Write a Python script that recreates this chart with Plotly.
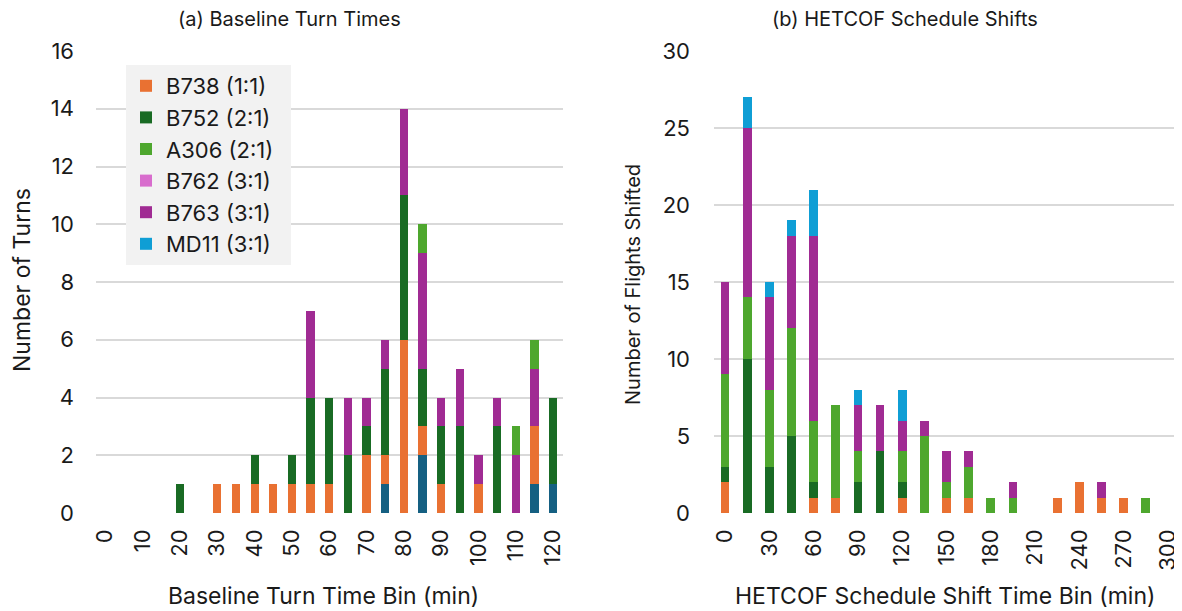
import plotly.graph_objects as go

# ---------------- data ----------------
left_bins = list(range(0, 125, 5))
#            0 5 10 15 20 25 30 35 40 45 50 55 60 65 70 75 80 85 90 95 100 105 110 115 120
left_md11 = [0, 0, 0, 0, 0, 0, 0, 0, 0, 0, 0, 0, 0, 0, 0, 1, 0, 2, 0, 0, 0, 0, 0, 1, 1]
left_b738 = [0, 0, 0, 0, 0, 0, 1, 1, 1, 1, 1, 1, 1, 0, 2, 1, 6, 1, 1, 0, 1, 0, 0, 2, 0]
left_b752 = [0, 0, 0, 0, 1, 0, 0, 0, 1, 0, 1, 3, 3, 2, 1, 3, 5, 2, 2, 3, 0, 3, 0, 0, 3]
left_b763 = [0, 0, 0, 0, 0, 0, 0, 0, 0, 0, 0, 3, 0, 2, 1, 1, 3, 4, 1, 2, 1, 1, 2, 2, 0]
left_a306 = [0, 0, 0, 0, 0, 0, 0, 0, 0, 0, 0, 0, 0, 0, 0, 0, 0, 1, 0, 0, 0, 0, 1, 1, 0]
left_ticks = list(range(0, 121, 10))

right_bins = list(range(0, 301, 15))
#             0 15 30 45 60 75 90 105 120 135 150 165 180 195 210 225 240 255 270 285 300
right_b738 = [2, 0, 0, 0, 1, 1, 0, 0, 1, 0, 1, 1, 0, 0, 0, 1, 2, 1, 1, 0, 0]
right_b752 = [1, 10, 3, 5, 1, 0, 2, 4, 1, 0, 0, 0, 0, 0, 0, 0, 0, 0, 0, 0, 0]
right_a306 = [6, 4, 5, 7, 4, 6, 2, 0, 2, 5, 1, 2, 1, 1, 0, 0, 0, 0, 0, 1, 0]
right_b762 = [0, 0, 0, 0, 0, 0, 0, 0, 0, 0, 0, 0, 0, 0, 0, 0, 0, 0, 0, 0, 0]
right_b763 = [6, 11, 6, 6, 12, 0, 3, 3, 2, 1, 2, 1, 0, 1, 0, 0, 0, 1, 0, 0, 0]
right_md11 = [0, 2, 1, 1, 3, 0, 1, 0, 2, 0, 0, 0, 0, 0, 0, 0, 0, 0, 0, 0, 0]
right_ticks = list(range(0, 301, 30))

names = ["B738 (1:1)", "B752 (2:1)", "A306 (2:1)", "B762 (3:1)", "B763 (3:1)", "MD11 (3:1)"]
colors = {"B738": "#E97132", "B752": "#196B24", "A306": "#4EA72E",
          "B762": "#D86DCD", "B763": "#A02B93", "MD11": "#0F9ED5", "MD11L": "#156082"}

FONT = "Inter"
OFF = 8                      # page body margin
W, H = 1182 - OFF, 611 - OFF


def px(x):
    return (x - OFF) / W


def py(y):
    return 1 - (y - OFF) / H


fig = go.Figure()

left_series = [("MD11L", left_md11, "MD11 (3:1)"), ("B738", left_b738, names[0]),
               ("B752", left_b752, names[1]), ("B763", left_b763, names[4]),
               ("A306", left_a306, names[2])]
for key, vals, nm in left_series:
    fig.add_trace(go.Bar(x=left_bins, y=vals, width=2.2, marker_color=colors[key],
                         marker_line_width=0, showlegend=False, xaxis="x", yaxis="y",
                         name=nm, legendgroup=key))

right_series = [("B738", right_b738, names[0]), ("B752", right_b752, names[1]),
                ("A306", right_a306, names[2]), ("B762", right_b762, names[3]),
                ("B763", right_b763, names[4]), ("MD11", right_md11, names[5])]
for key, vals, nm in right_series:
    fig.add_trace(go.Bar(x=right_bins, y=vals, width=5.9, marker_color=colors[key],
                         marker_line_width=0, showlegend=True, xaxis="x2", yaxis="y2",
                         name=nm + "\u00a0\u00a0", legendgroup=key))

ydom = [py(513), py(51)]
TXT = "#1a1a1a"
tickfont = dict(family=FONT, size=22, color=TXT)
grid = dict(showgrid=True, gridcolor="#d9d9d9", gridwidth=1.5, zeroline=False, showline=False)

fig.update_layout(
    width=W, height=H, barmode="stack", bargap=0,
    margin=dict(l=0, r=0, t=0, b=0),
    paper_bgcolor="white", plot_bgcolor="white",
    font=dict(family=FONT, size=22, color=TXT),
    xaxis=dict(domain=[px(96), px(562.5)], range=[-2.5, 122.5], tickmode="array",
               tickvals=left_ticks, ticktext=[str(v) for v in left_ticks], tickangle=-90,
               tickfont=tickfont, showgrid=False, zeroline=False, showline=False,
               ticklabelstandoff=11, automargin=False, anchor="y"),
    yaxis=dict(domain=ydom, range=[0, 16], dtick=2, tickfont=tickfont,
               ticklabelstandoff=21, automargin=False, anchor="x", **grid),
    xaxis2=dict(domain=[px(714), px(1179)], range=[-7.5, 307.5], tickmode="array",
                tickvals=right_ticks, ticktext=[str(v) for v in right_ticks], tickangle=-90,
                tickfont=tickfont, showgrid=False, zeroline=False, showline=False,
                ticklabelstandoff=11, automargin=False, anchor="y2"),
    yaxis2=dict(domain=ydom, range=[0, 30], dtick=5, tickfont=tickfont,
                ticklabelstandoff=23, automargin=False, anchor="x2", **grid),
    legend=dict(x=px(126), y=py(65), xanchor="left", yanchor="top",
                bgcolor="#f2f2f2", font=dict(family=FONT, size=22, color=TXT),
                traceorder="normal", itemwidth=30, borderwidth=0),
)

ann = [
    ("(a) Baseline Turn Times", 289, 19, 20, 0),
    ("(b) HETCOF Schedule Shifts", 905, 19, 20, 0),
    ("Baseline Turn Time Bin (min)", 323, 596, 23, 0),
    ("HETCOF Schedule Shift Time Bin (min)", 945, 596, 23, 0),
    ("Number of Turns", 22, 280, 23, -90),
    ("Number of Flights Shifted", 633, 285, 20, -90),
]
for text, x, y, size, angle in ann:
    fig.add_annotation(text=text, x=px(x), y=py(y), xref="paper", yref="paper",
                       showarrow=False, textangle=angle, xanchor="center", yanchor="middle",
                       font=dict(family=FONT, size=size, color=TXT))

fig.write_html("out.html")
